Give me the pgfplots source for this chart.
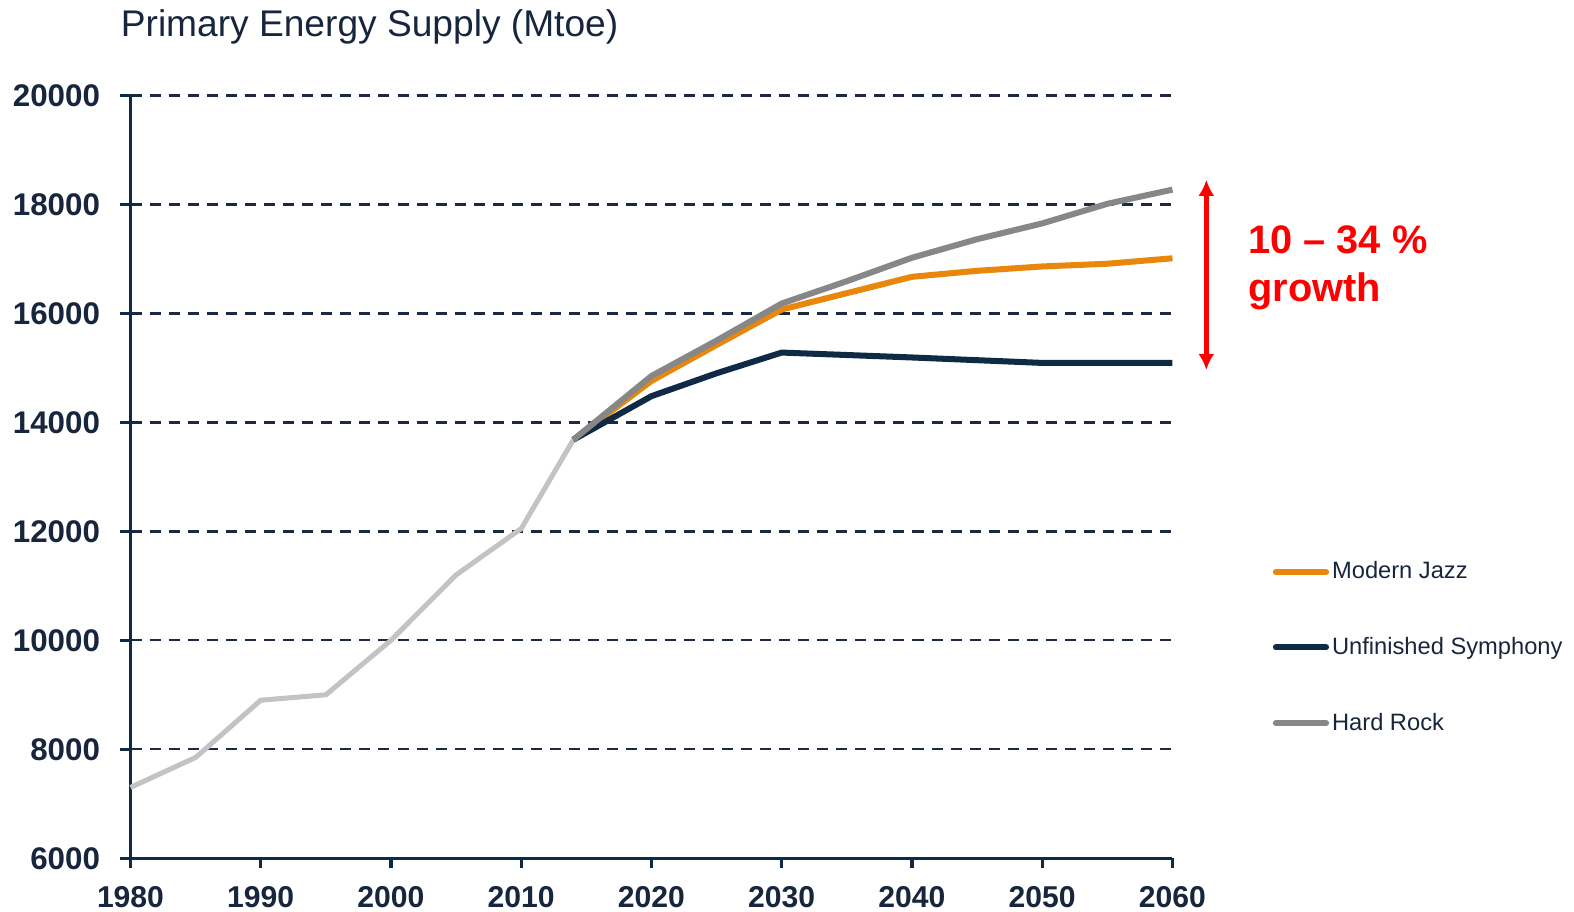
\documentclass[border=0pt]{standalone}
\usepackage{pgfplots}
\pgfplotsset{compat=1.18}
\usepackage{fontspec}
\setmainfont{Liberation Sans}
\usetikzlibrary{arrows.meta}

\definecolor{navy}{HTML}{0F2A44}
\definecolor{textnavy}{HTML}{17263D}
\definecolor{gridnavy}{HTML}{1B2A41}
\definecolor{jazz}{HTML}{E8870B}
\definecolor{rock}{HTML}{878787}
\definecolor{pastgray}{HTML}{C3C3C3}

\begin{document}
\begin{tikzpicture}
\useasboundingbox (-65pt,-26.5pt) rectangle (719pt,427.5pt);
\begin{axis}[
  at={(0,0)}, anchor=south west,
  scale only axis, width=519pt, height=380pt,
  xmin=1980, xmax=2060, ymin=6000, ymax=20000,
  clip=false,
  axis lines=left,
  axis line style={-, navy, line width=1.6pt},
  xtick={1980,1990,...,2060},
  ytick={6000,8000,...,20000},
  scaled y ticks=false,
  scaled x ticks=false,
  tick align=outside,
  major tick length=5pt,
  tick style={navy, line width=1.6pt},
  ymajorgrids,
  grid style={gridnavy, line width=1.2pt, dash pattern=on 5.5pt off 4pt},
  /pgf/number format/1000 sep={},
  /pgf/number format/assume math mode=true,
  yticklabel style={font=\fontsize{15.6}{18}\selectfont\bfseries, text=textnavy, inner sep=0pt, anchor=east, xshift=-10pt},
  xticklabel style={font=\fontsize{15}{18}\selectfont\bfseries, text=textnavy, inner sep=0pt, anchor=north, yshift=-9pt},
  title={Primary Energy Supply (Mtoe)},
  title style={at={(0,1)}, anchor=base west, xshift=-5pt, yshift=23.5pt,
    font=\fontsize{18.5}{22}\selectfont, text=textnavy, inner sep=0pt},
  legend style={at={(1.0902,0.2763)}, anchor=west, draw=none, fill=none,
    font=\fontsize{11.8}{14}\selectfont, text=textnavy, row sep=24.6pt,
    nodes={inner sep=1.5pt}},
  legend cell align=left,
  legend image code/.code={\draw[#1, line cap=round] (0pt,0pt) -- (25pt,0pt);},
  every axis plot/.append style={line join=round},
]
% historical supply
\addplot[pastgray, line width=2.5pt, forget plot] coordinates {
  (1980,7300) (1985,7850) (1990,8900) (1995,9000) (2000,10000)
  (2005,11200) (2010,12050) (2014,13680)};
% scenarios
\addplot[jazz, line width=3pt] coordinates {
  (2014,13680) (2020,14760) (2025,15420) (2030,16070) (2035,16370)
  (2040,16670) (2045,16780) (2050,16860) (2055,16910) (2060,17010)};
\addlegendentry{Modern Jazz}
\addplot[navy, line width=3pt] coordinates {
  (2014,13680) (2020,14480) (2025,14900) (2030,15280) (2040,15190)
  (2050,15090) (2060,15090)};
\addlegendentry{Unfinished Symphony}
\addplot[rock, line width=3pt] coordinates {
  (2014,13680) (2020,14850) (2025,15500) (2030,16180) (2035,16590)
  (2040,17020) (2045,17360) (2050,17650) (2055,18010) (2060,18270)};
\addlegendentry{Hard Rock}

% growth range annotation
\draw[red, line width=2.4pt, {Latex[length=8pt,width=8pt]}-{Latex[length=8pt,width=8pt]}]
  (axis cs:2062.6,18450) -- (axis cs:2062.6,14960);
\node[anchor=base west, inner sep=0pt, text=red, font=\fontsize{19.8}{24}\selectfont\bfseries]
  at (axis cs:2065.8,17105) {10 – 34 \%};
\node[anchor=base west, inner sep=0pt, text=red, font=\fontsize{19.8}{24}\selectfont\bfseries]
  at (axis cs:2065.8,16221) {growth};
\end{axis}
\end{tikzpicture}
\end{document}
